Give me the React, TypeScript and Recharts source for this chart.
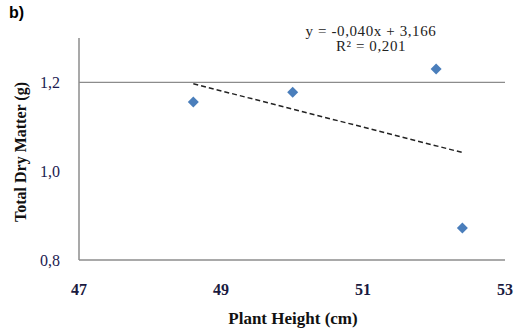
import {
  ScatterChart,
  Scatter,
  XAxis,
  YAxis,
  ReferenceLine,
} from "recharts";

const plantHeight = [48.61, 50.01, 52.03, 52.4];
const dryMatter = [1.156, 1.178, 1.23, 0.872];
const xTicks = [47, 49, 51, 53];
const yTicks = [0.8, 1.0, 1.2];
const equation = "y = -0,040x + 3,166";
const rSquared = "R² = 0,201";

const points = plantHeight.map((x, i) => ({ x, y: dryMatter[i] }));

// least squares fit, drawn between the first and last x like Excel does
function trend() {
  const n = plantHeight.length;
  const mx = plantHeight.reduce((a, b) => a + b, 0) / n;
  const my = dryMatter.reduce((a, b) => a + b, 0) / n;
  let sxy = 0;
  let sxx = 0;
  plantHeight.forEach((x, i) => {
    sxy += (x - mx) * (dryMatter[i] - my);
    sxx += (x - mx) * (x - mx);
  });
  const slope = sxy / sxx;
  const icpt = my - slope * mx;
  const x0 = Math.min(...plantHeight);
  const x1 = Math.max(...plantHeight);
  return [
    { x: x0, y: icpt + slope * x0 },
    { x: x1, y: icpt + slope * x1 },
  ];
}

const serif = "'Liberation Serif', 'Times New Roman', serif";
const comma = (v: number) => v.toFixed(1).replace(".", ",");

function Diamond(props: any) {
  const { cx, cy } = props;
  if (cx == null || cy == null) return null;
  const r = 5.5;
  return (
    <path
      d={`M${cx},${cy - r}L${cx + r},${cy}L${cx},${cy + r}L${cx - r},${cy}Z`}
      fill="#4a7ebb"
    />
  );
}

function XTick(props: any) {
  const { x, y, payload } = props;
  return (
    <text
      x={x}
      y={y + 15}
      textAnchor="middle"
      style={{ fontFamily: serif, fontSize: 16, fontWeight: 700, fill: "#1a1a40" }}
    >
      {payload.value}
    </text>
  );
}

function YTick(props: any) {
  const { x, y, payload } = props;
  return (
    <text
      x={x + 1}
      y={y + 6}
      textAnchor="end"
      style={{ fontFamily: serif, fontSize: 16, fill: "#1a1a50" }}
    >
      {comma(payload.value)}
    </text>
  );
}

export default function App() {
  return (
    <div
      style={{
        position: "absolute",
        left: 0,
        top: 0,
        width: 525,
        height: 331,
        background: "#fff",
        fontFamily: serif,
      }}
    >
      <div
        style={{
          position: "absolute",
          left: 9,
          top: 4,
          fontFamily: "'Liberation Sans', Arial, sans-serif",
          fontWeight: 700,
          fontSize: 16,
        }}
      >
        b)
      </div>
      <ScatterChart
        width={525}
        height={331}
        margin={{ top: 38, right: 20, bottom: 41, left: 39 }}
      >
        <XAxis
          type="number"
          dataKey="x"
          domain={[47, 53]}
          ticks={xTicks}
          allowDataOverflow
          height={30}
          tickLine={false}
          axisLine={{ stroke: "#8c8c8c", strokeWidth: 1.5 }}
          tick={<XTick />}
          tickMargin={14}
        />
        <YAxis
          type="number"
          dataKey="y"
          domain={[0.8, 1.3]}
          ticks={yTicks}
          allowDataOverflow
          width={40}
          tickLine={false}
          axisLine={{ stroke: "#8c8c8c", strokeWidth: 1.5 }}
          tick={<YTick />}
          tickMargin={14}
        />
        <ReferenceLine y={1.2} stroke="#8c8c8c" strokeWidth={1.2} />
        <Scatter
          data={trend()}
          line={{ stroke: "#222", strokeWidth: 1.5, strokeDasharray: "5 3" }}
          shape={() => null}
          legendType="none"
          isAnimationActive={false}
        />
        <Scatter
          data={points}
          fill="#4a7ebb"
          shape={Diamond}
          isAnimationActive={false}
        />
      </ScatterChart>
      <div
        style={{
          position: "absolute",
          left: 281,
          top: 24,
          width: 180,
          textAlign: "center",
          fontSize: 15,
          letterSpacing: "0.6px",
          lineHeight: "15px",
          color: "#222",
        }}
      >
        <div>{equation}</div>
        <div>{rSquared}</div>
      </div>
      <div
        style={{
          position: "absolute",
          left: 80,
          top: 309,
          width: 426,
          textAlign: "center",
          fontSize: 17,
          fontWeight: 700,
          color: "#111",
        }}
      >
        Plant Height (cm)
      </div>
      <div
        style={{
          position: "absolute",
          left: 21,
          top: 152,
          transform: "translate(-50%, -50%) rotate(-90deg)",
          whiteSpace: "nowrap",
          fontSize: 16,
          fontWeight: 700,
          color: "#111",
        }}
      >
        Total Dry Matter (g)
      </div>
    </div>
  );
}
